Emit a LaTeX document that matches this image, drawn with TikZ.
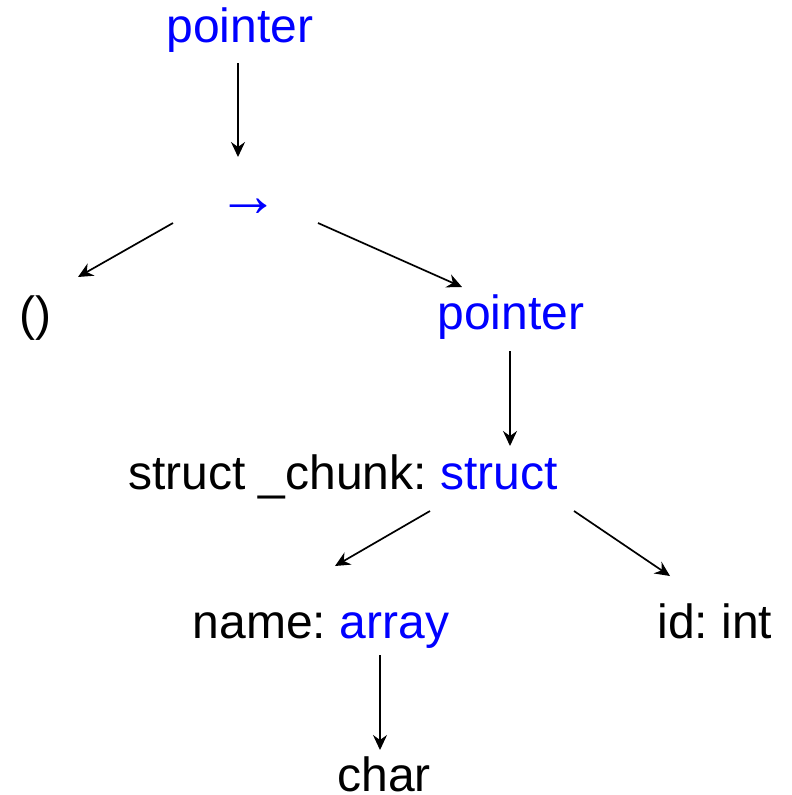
\documentclass[tikz,border=0pt]{standalone}
\usepackage{fontspec}
\setmainfont{Liberation Sans}
\usetikzlibrary{arrows.meta,calc}
\definecolor{typeblue}{RGB}{0,0,255}
\tikzset{
  lbl/.style={anchor=base, inner sep=0pt, font=\fontsize{48}{58}\selectfont\frenchspacing},
  typ/.style={lbl, text=typeblue},
  arr/.style={line width=1.7pt, -{Stealth[length=15pt,width=14pt,inset=5pt]}}
}
\begin{document}
\begin{tikzpicture}[x=1pt,y=1pt]
\useasboundingbox (0,0) rectangle (792,-795);
\node[typ] (p1) at (240,-42) {pointer};
\node[typ, font=\fontsize{62}{70}\selectfont] (fn) at (248,-216.6) {→};
\node[lbl] (unit) at (35,-330) {()};
\node[typ] (p2) at (511,-329) {pointer};
\node[lbl] (st) at (343,-489) {struct \_chunk: \textcolor{typeblue}{struct}};
\node[lbl] (nm) at (321,-638) {name: \textcolor{typeblue}{array}};
\node[lbl] (id) at (715,-638) {id: int};
\node[lbl] (ch) at (384,-791) {char};
\draw[arr] ($(p1.base)+(-2,-21)$) -- ($(fn.base)+(-10,59.6)$);
\draw[arr] ($(fn.base)+(-75,-6.4)$) -- ($(unit.base)+(43,53)$);
\draw[arr] ($(fn.base)+(70,-6.4)$) -- ($(p2.base)+(-49,42)$);
\draw[arr] ($(p2.base)+(-1,-22)$) -- ($(st.base)+(167,43)$);
\draw[arr] ($(st.base)+(87,-22)$) -- ($(nm.base)+(14,72)$);
\draw[arr] ($(st.base)+(231,-22)$) -- ($(id.base)+(-45,62)$);
\draw[arr] ($(nm.base)+(59,-17)$) -- ($(ch.base)+(-4,41)$);
\end{tikzpicture}
\end{document}
